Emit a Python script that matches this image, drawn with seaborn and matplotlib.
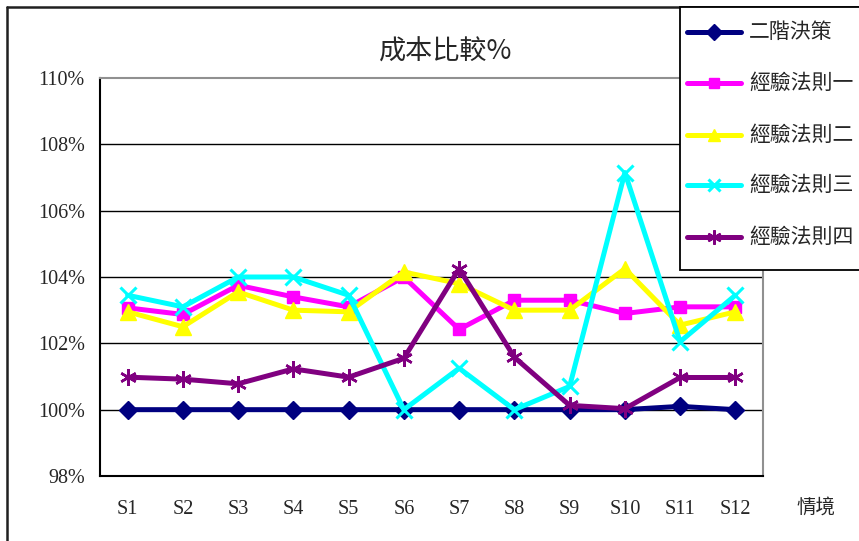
import numpy as np
import pandas as pd
import seaborn as sns
import matplotlib
matplotlib.use("Agg")
import matplotlib.pyplot as plt
from matplotlib.lines import Line2D
from matplotlib.patches import Rectangle

# Scenario categories and cost ratios (%) for each decision method
scenarios = ["S1", "S2", "S3", "S4", "S5", "S6", "S7", "S8", "S9", "S10", "S11", "S12"]
two_stage = [100.0, 100.0, 100.0, 100.0, 100.0, 100.0, 100.0, 100.0, 100.0, 100.0, 100.1, 100.0]
rule_1 = [103.07, 102.87, 103.75, 103.4, 103.1, 104.0, 102.42, 103.3, 103.3, 102.9, 103.1, 103.1]
rule_2 = [102.95, 102.5, 103.55, 103.0, 102.95, 104.15, 103.8, 103.0, 103.0, 104.25, 102.55, 102.95]
rule_3 = [103.45, 103.1, 104.0, 104.0, 103.45, 100.0, 101.25, 100.0, 100.7, 107.15, 102.05, 103.45]
rule_4 = [100.98, 100.92, 100.78, 101.23, 100.98, 101.55, 104.25, 101.58, 100.13, 100.03, 100.97, 100.97]

series_names = ["二階決策", "經驗法則一", "經驗法則二", "經驗法則三", "經驗法則四"]
series_values = [two_stage, rule_1, rule_2, rule_3, rule_4]
y_ticks = [98, 100, 102, 104, 106, 108, 110]

colors = ["#000080", "#FF00FF", "#FFFF00", "#00FFFF", "#800080"]
markers = ["D", "s", "^", "x", (6, 2, 0)]
msizes = [9, 9, 11, 11, 12]
mews = [1, 1, 1, 2.2, 1.8]

sns.set_style("white")
serif = ["Liberation Serif", "DejaVu Serif"]
cjk = ["Noto Sans CJK TC", "DejaVu Sans"]
plt.rcParams["font.family"] = serif

W, H = 859, 541
fig = plt.figure(figsize=(W / 100, H / 100), dpi=100)
fig.patch.set_facecolor("white")


def fx(px):
    return px / W


def fy(py):
    return 1 - py / H


ax = fig.add_axes([fx(100), fy(476), fx(763) - fx(100), fy(78) - fy(476)])
ax.set_facecolor("white")

df = pd.DataFrame({
    "scenario": np.tile(scenarios, len(series_names)),
    "method": np.repeat(series_names, len(scenarios)),
    "cost": np.concatenate(series_values),
})

for i, name in enumerate(series_names):
    sub = df[df["method"] == name]
    sns.lineplot(data=sub, x="scenario", y="cost", ax=ax, color=colors[i],
                 marker=markers[i], markersize=msizes[i], markeredgewidth=mews[i],
                 markeredgecolor=colors[i], markerfacecolor=colors[i],
                 linewidth=3.6, sort=False, legend=False, zorder=3 + i)

ax.set_xlim(-0.5, len(scenarios) - 0.5)
ax.set_ylim(98, 110)
ax.set_yticks(y_ticks)
ax.set_yticklabels([f"{v}%" for v in y_ticks])
ax.set_xticks(range(len(scenarios)))
ax.set_xticklabels(scenarios)
ax.set_xticks(np.arange(0.5, len(scenarios) - 0.5, 1), minor=True)
ax.set_xlabel("")
ax.set_ylabel("")

for v in y_ticks[1:-1]:
    ax.axhline(v, color="black", linewidth=1.0, zorder=1)

ax.tick_params(axis="x", which="major", length=0, pad=17, labelsize=14.5)
ax.tick_params(axis="x", which="minor", direction="in", length=5, width=1, color="black")
ax.tick_params(axis="y", which="major", direction="in", length=5, width=1, color="black",
               pad=11, labelsize=14.5)
for lab in ax.get_xticklabels() + ax.get_yticklabels():
    lab.set_family(serif)

ax.spines["left"].set_color("black")
ax.spines["bottom"].set_color("black")
ax.spines["left"].set_linewidth(1.5)
ax.spines["bottom"].set_linewidth(1.5)
ax.spines["top"].set_color("#909090")
ax.spines["right"].set_color("#909090")
ax.spines["top"].set_linewidth(1.5)
ax.spines["right"].set_linewidth(1.5)

# Title and category axis name
fig.text(fx(446), fy(52), "成本比較%", ha="center", va="center", fontsize=19.5, family=cjk)
fig.text(fx(816), fy(507), "情境", ha="center", va="center", fontsize=14, family=cjk)

# Chart frame (left and top edges)
fig.add_artist(Line2D([fx(7), fx(7)], [fy(7), fy(545)], color="#202020", linewidth=1.8))
fig.add_artist(Line2D([fx(7), fx(870)], [fy(7), fy(7)], color="#202020", linewidth=1.8))

# Legend box
fig.add_artist(Rectangle((fx(680), fy(270)), fx(900) - fx(680), fy(7) - fy(270),
                         transform=fig.transFigure, facecolor="white",
                         edgecolor="black", linewidth=1.3, zorder=10))
rows = [32, 83, 135, 185, 237]
for i, name in enumerate(series_names):
    y = fy(rows[i])
    fig.add_artist(Line2D([fx(687), fx(714), fx(741)], [y, y, y], color=colors[i],
                          linewidth=3.6, marker=markers[i], markevery=[1],
                          markersize=msizes[i] * 0.85, markeredgewidth=mews[i],
                          markerfacecolor=colors[i], markeredgecolor=colors[i], zorder=11))
    fig.text(fx(749), y, name, ha="left", va="center", fontsize=15, family=cjk, zorder=12)

fig.savefig("out.png", dpi=100, facecolor="white")
